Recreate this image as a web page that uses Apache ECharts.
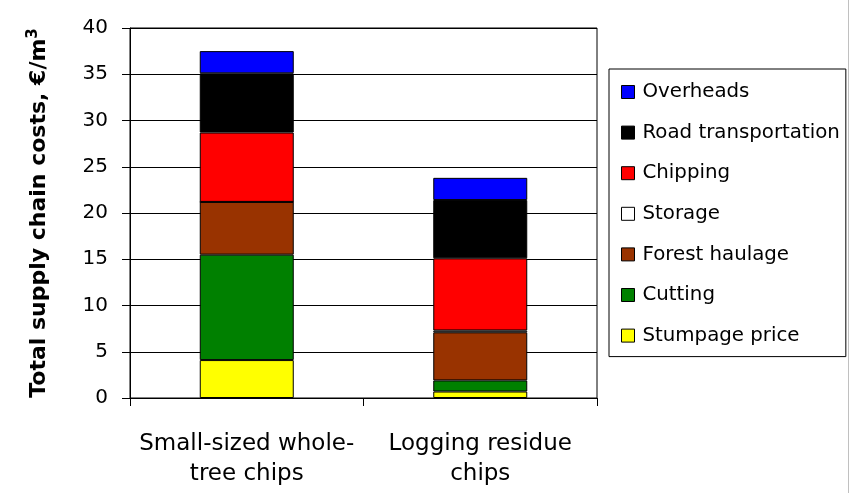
<!DOCTYPE html>
<html>
<head>
<meta charset="utf-8">
<script src="https://cdn.jsdelivr.net/npm/echarts@6/dist/echarts.min.js"></script>
<style>html,body{margin:0;padding:0;background:#fff;}#c{width:850px;height:493px;}</style>
</head>
<body>
<div id="c"></div>
<script>
const categories = ['Small-sized whole-\ntree chips', 'Logging residue\nchips'];
const stumpagePrice = [4.1, 0.7];
const cutting = [11.4, 1.2];
const forestHaulage = [5.7, 5.2];
const storage = [0, 0.2];
const chipping = [7.5, 7.8];
const roadTransportation = [6.4, 6.3];
const overheads = [2.4, 2.4];
const yTicks = [0, 5, 10, 15, 20, 25, 30, 35, 40];

const seriesDefs = [
  ['Stumpage price', stumpagePrice, '#FFFF00'],
  ['Cutting', cutting, '#008000'],
  ['Forest haulage', forestHaulage, '#993300'],
  ['Storage', storage, '#FFFFFF'],
  ['Chipping', chipping, '#FF0000'],
  ['Road transportation', roadTransportation, '#000000'],
  ['Overheads', overheads, '#0000FF']
];

const chart = echarts.init(document.getElementById('c'), null, {renderer: 'canvas'});
const font = 'DejaVu Sans';
chart.setOption({
  backgroundColor: '#fff',
  animation: false,
  textStyle: {fontFamily: font, color: '#000'},
  grid: {left: 130, right: 253, top: 28, bottom: 95, show: true, borderColor: '#000', borderWidth: 1, backgroundColor: 'transparent'},
  legend: {
    orient: 'vertical',
    left: 609,
    top: 69,
    data: seriesDefs.map(d => d[0]).reverse(),
    backgroundColor: '#fff',
    borderColor: '#000',
    borderWidth: 1,
    padding: [13, 6, 11, 12],
    itemWidth: 13,
    itemHeight: 13,
    itemGap: 20.6,
    icon: 'rect',
    itemStyle: {borderColor: '#000', borderWidth: 1},
    textStyle: {fontFamily: font, fontSize: 19.8, color: '#000', padding: [0, 0, 0, 3]}
  },
  xAxis: {
    type: 'category',
    data: categories,
    axisLine: {lineStyle: {color: '#000', width: 1}},
    axisTick: {show: true, length: 8, lineStyle: {color: '#000'}},
    axisLabel: {fontFamily: font, fontSize: 23, color: '#000', lineHeight: 30, margin: 31, interval: 0}
  },
  yAxis: {
    type: 'value',
    min: yTicks[0],
    max: yTicks[yTicks.length - 1],
    interval: 5,
    name: '{a|Total supply chain costs, €/m}{b|3}',
    nameLocation: 'middle',
    nameGap: 78,
    nameTextStyle: {
      fontFamily: font, fontSize: 22, fontWeight: 'bold', color: '#000',
      rich: {
        a: {fontFamily: font, fontSize: 22, fontWeight: 'bold', color: '#000', lineHeight: 26},
        b: {fontFamily: font, fontSize: 15, fontWeight: 'bold', color: '#000', verticalAlign: 'top', lineHeight: 26}
      }
    },
    axisLine: {show: true, lineStyle: {color: '#000', width: 1}},
    axisTick: {show: true, length: 8, lineStyle: {color: '#000'}},
    axisLabel: {fontFamily: font, fontSize: 20, color: '#000', margin: 22},
    splitLine: {show: true, lineStyle: {color: '#000', width: 1}}
  },
  graphic: [{type: 'line', shape: {x1: 848.5, y1: 0, x2: 848.5, y2: 493}, style: {stroke: '#c0c0c0', lineWidth: 1}}],
  series: seriesDefs.map(d => ({
    name: d[0],
    type: 'bar',
    stack: 'total',
    data: d[1],
    barWidth: 94,
    itemStyle: {color: d[2], borderColor: '#000', borderWidth: 1}
  }))
});
</script>
</body>
</html>
